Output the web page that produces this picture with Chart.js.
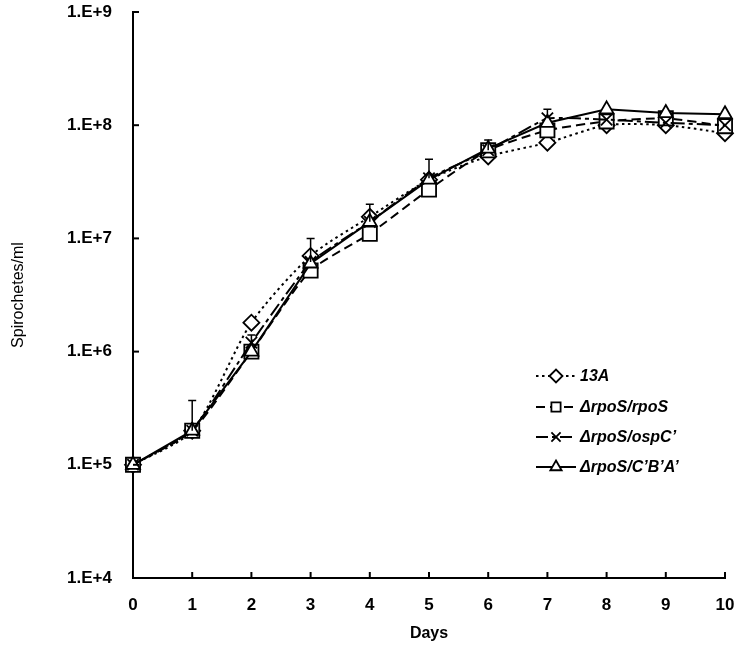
<!DOCTYPE html>
<html>
<head>
<meta charset="utf-8">
<script src="https://cdn.jsdelivr.net/npm/chart.js@4"></script>
<style>
html,body{margin:0;padding:0;background:#fff;}
#wrap{width:743px;height:654px;position:relative;}
</style>
</head>
<body>
<div id="wrap"><canvas id="growth" width="743" height="654"></canvas></div>
<script>
const days=[0,1,2,3,4,5,6,7,8,9,10];
const yTicks=[1e4,1e5,1e6,1e7,1e8,1e9];
const wt13A=[1e5,2e5,1.8e6,7e6,1.55e7,3.3e7,5.3e7,7e7,1.0e8,1.0e8,8.5e7];
const rpoS=[1e5,2e5,1.0e6,5.2e6,1.1e7,2.7e7,6.0e7,9.0e7,1.08e8,1.15e8,9.8e7];
const ospC=[1e5,2e5,1.2e6,6.2e6,1.4e7,3.4e7,6.0e7,1.15e8,1.12e8,1.05e8,1.0e8];
const cba=[1e5,2e5,1.0e6,6.0e6,1.4e7,3.3e7,6.2e7,1.05e8,1.38e8,1.28e8,1.25e8];
const errUpper=[null,3.7e5,1.4e6,1.0e7,2.0e7,5.0e7,7.4e7,1.38e8,null,null,null];

const series=[
  {label:'13A',data:wt13A,style:'rectRot',r:8,dash:[2.5,3.5],tension:.25},
  {label:'\u0394rpoS/rpoS',data:rpoS,style:'rect',r:10,dash:[9,5],tension:.2},
  {label:'\u0394rpoS/ospC\u2019',data:ospC,style:'crossRot',r:8,dash:[14,4,4,4],tension:.1},
  {label:'\u0394rpoS/C\u2019B\u2019A\u2019',data:cba,style:'triangle',r:8,dash:[],tension:0}
];

// upper error bars on the ospC' series
const errorBars={
  id:'errorBars',
  afterDatasetsDraw(chart){
    const {ctx,scales:{x,y}}=chart;
    ctx.save();
    ctx.strokeStyle='#000';ctx.lineWidth=1.5;ctx.setLineDash([]);
    errUpper.forEach((u,i)=>{
      if(u==null)return;
      const px=x.getPixelForValue(days[i]);
      const y0=y.getPixelForValue(ospC[i]),y1=y.getPixelForValue(u);
      ctx.beginPath();
      ctx.moveTo(px,y0);ctx.lineTo(px,y1);
      ctx.moveTo(px-4,y1);ctx.lineTo(px+4,y1);
      ctx.stroke();
    });
    ctx.restore();
  }
};

// inside tick marks like the original
const innerTicks={
  id:'innerTicks',
  afterDraw(chart){
    const {ctx,scales:{x,y},chartArea:a}=chart;
    ctx.save();
    ctx.strokeStyle='#000';ctx.lineWidth=2;
    days.forEach(d=>{
      const px=x.getPixelForValue(d);
      ctx.beginPath();ctx.moveTo(px,a.bottom);ctx.lineTo(px,a.bottom-6);ctx.stroke();
    });
    yTicks.forEach(v=>{
      const py=y.getPixelForValue(v);
      ctx.beginPath();ctx.moveTo(a.left,py);ctx.lineTo(a.left+6,py);ctx.stroke();
    });
    ctx.restore();
  }
};

// legend with line sample + marker
const sampleLegend={
  id:'sampleLegend',
  afterDraw(chart){
    const ctx=chart.ctx;
    const rows=[376,407,437,467];
    ctx.save();
    series.forEach((s,i)=>{
      const yy=rows[i];
      ctx.strokeStyle='#000';ctx.lineWidth=2;
      ctx.setLineDash(s.dash.length?(i===2?[12,4,4,4]:s.dash):[]);
      ctx.beginPath();ctx.moveTo(536,yy);ctx.lineTo(576,yy);ctx.stroke();
      ctx.setLineDash([]);
      ctx.fillStyle='#fff';ctx.lineWidth=1.8;
      Chart.helpers.drawPoint(ctx,{pointStyle:s.style,radius:6.5,borderWidth:1.8,rotation:0},556,yy);
      ctx.fillStyle='#000';
      ctx.font='italic bold 16px "Liberation Sans", Arial, sans-serif';
      ctx.textBaseline='middle';ctx.textAlign='left';
      ctx.fillText(s.label,580,yy+1);
    });
    ctx.restore();
  }
};

const fontFam='"Liberation Sans", Arial, sans-serif';

new Chart(document.getElementById('growth'),{
  type:'line',
  data:{labels:days,datasets:series.map((s,i)=>({
    label:s.label,data:s.data,clip:false,
    borderColor:'#000',borderWidth:2,borderDash:s.dash,tension:s.tension,
    pointStyle:s.style,pointRadius:s.r,pointBorderWidth:1.8,
    pointBorderColor:'#000',pointBackgroundColor:'#fff',
    order:series.length-i
  }))},
  options:{
    responsive:false,animation:false,
    layout:{padding:{left:0,right:18,top:12,bottom:0}},
    plugins:{legend:{display:false},tooltip:{enabled:false}},
    scales:{
      x:{
        type:'linear',min:0,max:10,
        afterFit(s){s.height=76;s.paddingLeft=0;s.paddingRight=0;},
        afterBuildTicks(s){s.ticks=days.map(v=>({value:v}));},
        grid:{display:false,drawTicks:false},
        border:{display:true,color:'#000',width:2},
        ticks:{padding:17,color:'#000',autoSkip:false,maxRotation:0,font:{family:fontFam,size:17,weight:'bold'}},
        title:{display:true,text:'Days',color:'#000',padding:{top:0,bottom:11},font:{family:fontFam,size:16,weight:'bold'}}
      },
      y:{
        type:'logarithmic',min:1e4,max:1e9,
        afterFit(s){s.width=133;s.paddingTop=0;s.paddingBottom=0;},
        afterBuildTicks(s){s.ticks=yTicks.map(v=>({value:v}));},
        grid:{display:false,drawTicks:false},
        border:{display:true,color:'#000',width:2},
        ticks:{padding:21,color:'#000',autoSkip:false,font:{family:fontFam,size:17,weight:'bold'},
          callback:v=>'1.E+'+Math.round(Math.log10(v))},
        title:{display:true,text:'Spirochetes/ml',color:'#000',padding:{top:9,bottom:0},font:{family:fontFam,size:16}}
      }
    }
  },
  plugins:[errorBars,innerTicks,sampleLegend]
});
</script>
</body>
</html>
